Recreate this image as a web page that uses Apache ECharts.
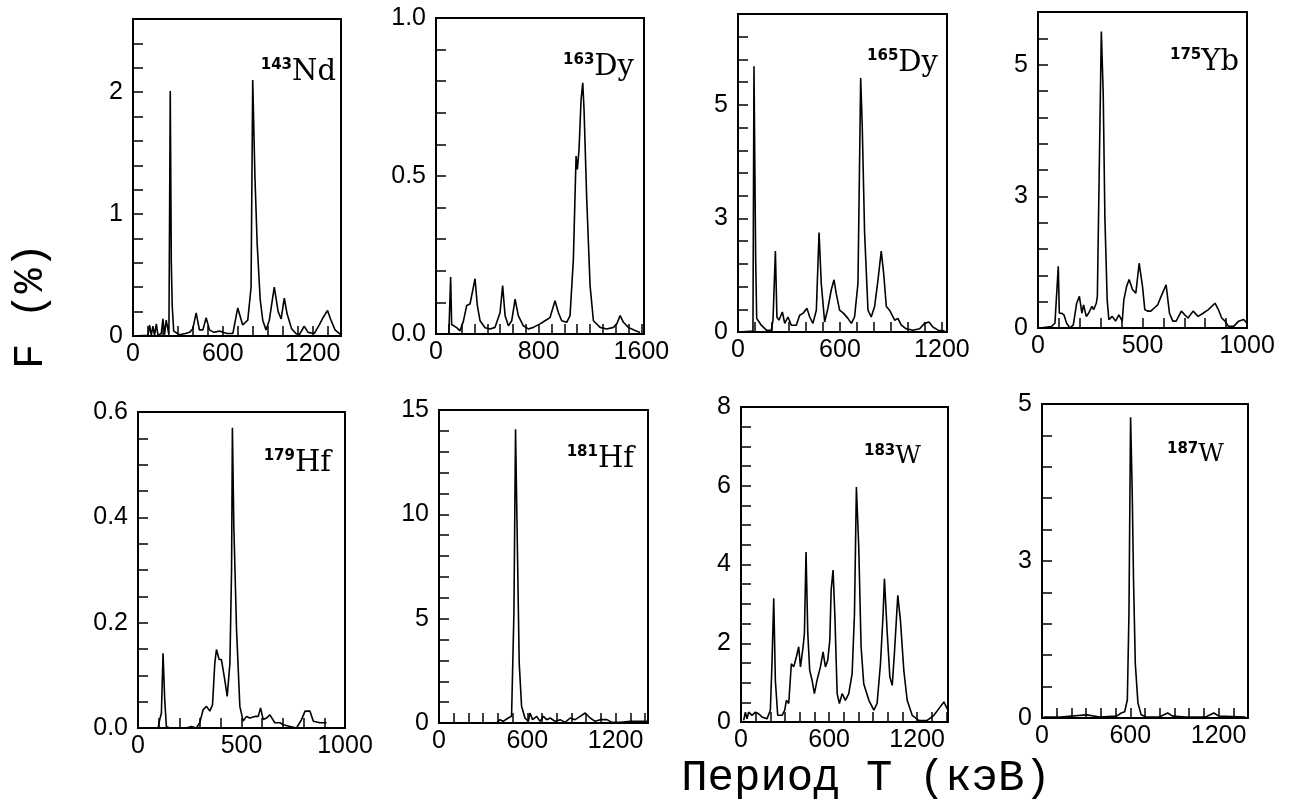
<!DOCTYPE html>
<html>
<head>
<meta charset="utf-8">
<script src="https://cdn.jsdelivr.net/npm/echarts@6/dist/echarts.min.js"></script>
<style>
html,body{margin:0;padding:0;background:#fff;}
#chart{width:1297px;height:801px;}
</style>
</head>
<body>
<div id="chart"></div>
<script>
// ---------- DATA (keV, F %) ----------
const nd143 = [[0,0],[100,0.005],[111,0.09],[122,0.005],[133,0.08],[144,0.005],[156,0.1],[167,0.005],[189,0.02],[200,0.14],[211,0.01],[222,0.13],[240,0.01],[249,2.01],[256,0.6],[262,0.25],[272,0.04],[311,0.01],[350,0.02],[378,0.03],[400,0.06],[422,0.19],[444,0.05],[467,0.05],[489,0.15],[511,0.05],[540,0.03],[578,0.04],[600,0.03],[630,0.02],[667,0.02],[700,0.23],[733,0.09],[767,0.13],[789,0.4],[800,2.1],[815,1.3],[830,0.75],[850,0.3],[867,0.13],[889,0.05],[911,0.13],[944,0.4],[970,0.2],[990,0.14],[1011,0.31],[1030,0.18],[1060,0.06],[1089,0.02],[1111,0.01],[1144,0.08],[1170,0.03],[1211,0.02],[1244,0.09],[1270,0.15],[1300,0.21],[1320,0.14],[1350,0.05],[1390,0.01]];
const dy163 = [[100,0],[108,0.0],[114,0.18],[122,0.03],[135,0.03],[161,0.02],[187,0.01],[213,0.04],[239,0.09],[265,0.095],[280,0.09],[304,0.175],[322,0.09],[343,0.042],[382,0.02],[421,0.016],[460,0.021],[499,0.068],[519,0.153],[538,0.058],[564,0.026],[590,0.042],[616,0.11],[641,0.058],[680,0.026],[719,0.016],[758,0.021],[810,0.032],[849,0.042],[888,0.052],[927,0.105],[953,0.068],[979,0.042],[1018,0.037],[1044,0.058],[1070,0.237],[1091,0.563],[1101,0.521],[1114,0.584],[1130,0.742],[1143,0.795],[1153,0.71],[1174,0.426],[1200,0.153],[1226,0.042],[1278,0.021],[1330,0.016],[1382,0.021],[1408,0.032],[1434,0.058],[1460,0.037],[1498,0.021],[1550,0.011],[1589,0.005]];
const dy165 = [[10,0],[88,0.02],[94,5.85],[104,1.6],[110,0.3],[118,0.26],[137,0.15],[167,0.04],[196,0.04],[206,0.26],[220,1.78],[229,0.33],[241,0.26],[261,0.44],[275,0.19],[294,0.33],[314,0.15],[343,0.15],[363,0.37],[382,0.41],[406,0.52],[422,0.33],[441,0.19],[461,0.48],[477,2.19],[490,1.07],[510,0.22],[529,0.52],[549,0.93],[565,1.15],[578,0.85],[598,0.48],[622,0.41],[647,0.3],[667,0.19],[686,0.33],[706,1.07],[722,5.59],[731,4.56],[745,2.19],[765,0.48],[784,0.33],[804,0.56],[824,1.15],[843,1.78],[857,1.3],[873,0.56],[892,0.48],[922,0.26],[941,0.3],[961,0.15],[990,0.07],[1029,0.04],[1069,0.07],[1098,0.19],[1124,0.22],[1147,0.11],[1177,0.04],[1216,0.02]];
const yb175 = [[8,0],[65,0.03],[81,0.09],[89,0.06],[97,1.17],[102,0.28],[113,0.28],[124,0.25],[137,0.09],[153,0],[169,0.06],[185,0.47],[198,0.6],[210,0.28],[218,0.44],[231,0.22],[242,0.28],[258,0.41],[266,0.35],[279,0.47],[284,0.6],[303,5.63],[312,4.46],[320,2.1],[331,0.54],[339,0.16],[355,0.22],[371,0.13],[387,0.25],[403,0.13],[411,0.54],[424,0.79],[436,0.92],[452,0.73],[468,0.66],[484,1.23],[500,0.79],[511,0.35],[524,0.32],[540,0.32],[556,0.38],[573,0.44],[589,0.6],[613,0.82],[629,0.28],[645,0.13],[661,0.13],[686,0.32],[702,0.25],[718,0.19],[742,0.32],[766,0.22],[790,0.28],[815,0.35],[847,0.47],[863,0.35],[879,0.19],[895,0.13],[911,0.03],[936,0.03],[960,0.13],[984,0.16],[1000,0.09]];
const hf179 = [[8,0],[97,0],[105,0.016],[113,0.028],[121,0.142],[129,0.054],[137,0.003],[153,0],[234,0],[258,0.003],[282,0],[298,0.01],[315,0.035],[331,0.041],[347,0.032],[360,0.044],[371,0.123],[379,0.149],[392,0.13],[403,0.13],[419,0.092],[431,0.06],[444,0.123],[452,0.3],[456,0.57],[463,0.383],[476,0.187],[492,0.041],[508,0.013],[524,0.022],[540,0.019],[565,0.022],[581,0.022],[592,0.038],[605,0.016],[621,0.019],[637,0.025],[661,0.01],[686,0.01],[702,0.006],[734,0.003],[766,0],[790,0.016],[807,0.032],[831,0.032],[847,0.013],[879,0.01],[911,0.01]];
const hf181 = [[27,0],[391,0],[414,0.16],[436,0.08],[470,0.24],[493,0.32],[509,5.28],[520,14.08],[532,8.64],[545,2.88],[561,0.8],[584,0.24],[607,0.08],[618,0.48],[636,0.16],[664,0.32],[686,0.08],[709,0.32],[732,0.16],[755,0.24],[789,0.08],[823,0.16],[857,0.03],[891,0.24],[925,0.16],[959,0.32],[993,0.48],[1027,0.24],[1061,0.08],[1095,0.16],[1141,0.16],[1175,0.03],[1232,0.03],[1300,0.08],[1414,0.08]];
const w183 = [[18,0.04],[30,0.25],[41,0.08],[52,0.25],[75,0.17],[98,0.25],[120,0.21],[143,0.13],[177,0.08],[200,0.3],[211,1.48],[223,3.14],[234,1.06],[250,0.17],[280,0.17],[298,0.3],[309,0.55],[325,0.47],[343,1.48],[359,1.4],[377,1.65],[393,1.91],[405,1.4],[423,1.91],[432,2.25],[443,4.32],[455,2.25],[468,1.31],[484,1.06],[500,0.72],[518,1.06],[541,1.4],[559,1.78],[575,1.4],[591,1.57],[605,2.08],[614,3.35],[627,3.86],[639,2.75],[655,0.72],[670,0.47],[689,0.72],[711,0.55],[734,0.72],[757,1.23],[773,2.75],[786,5.97],[802,4.45],[818,1.91],[836,0.97],[871,0.55],[905,0.3],[927,0.47],[950,1.48],[968,2.75],[977,3.64],[995,2.33],[1014,1.14],[1030,0.93],[1045,1.74],[1068,3.22],[1086,2.58],[1109,1.31],[1132,0.55],[1166,0.17],[1211,0.04],[1268,0.04],[1314,0.17],[1348,0.34],[1382,0.51],[1409,0.3]];
const w187 = [[11,0.016],[124,0.016],[303,0.05],[393,0.016],[506,0.03],[539,0.08],[562,0.1],[580,0.29],[591,1.67],[602,4.79],[613,3.62],[622,2.2],[634,0.87],[652,0.24],[674,0.05],[708,0.016],[798,0.016],[854,0.08],[888,0.03],[977,0.016],[1112,0.016],[1168,0.08],[1202,0.03],[1382,0.016]];

const isotopes = ['143','163','165','175','179','181','183','187'];
const elements = ['Nd','Dy','Dy','Yb','Hf','Hf','W','W'];
const xMax   = [1390,1620,1230,1000,1000,1420,1410,1400];
const xMinor = [100,100,100,100,100,100,100,100];
const xMajor = [600,800,600,500,500,600,600,600];
const yMax   = [2.6,1.0,7,6,0.6,15,8,5];
const yMinor = [0.2,0.1,0.5,0.5,0.05,1,0.5,0.5];
const yMajor = [1,0.5,2.5,2.5,0.2,5,2,2.5];
const yDecimals = [0,1,0,0,1,0,0,0];
const xTitle = 'Период T (кэВ)';
const yTitle = 'F (%)';
const panelData = [nd143, dy163, dy165, yb175, hf179, hf181, w183, w187];

// ---------- LAYOUT ----------
const layout = [[133,19,208,317],[436,18,208,316],[738,14,209,318],[1038,12,209,316],
                [138,412,207,316],[439,410,209,313],[741,407,207,315],[1042,404,206,314]];
const titlePos = [[336,87],[634,82],[938,78],[1239,77],[331,478],[634,474],[921,469],[1224,467]];
const elSize = [29,29,29,29,29,29,25,25];

function isMajor(v, step){ const r = v/step; return Math.abs(r - Math.round(r)) < 1e-6; }

const labelFont = {color:'#000', fontSize:25, fontFamily:'Liberation Sans, Arial, sans-serif'};
const option = {
  backgroundColor:'#fff',
  animation:false,
  grid: layout.map(g => ({left:g[0], top:g[1], width:g[2], height:g[3], show:true, borderColor:'#000', borderWidth:2, backgroundColor:'transparent'})),
  xAxis: layout.map((g,i) => ({
    type:'value', gridIndex:i, min:0, max:xMax[i], interval:xMinor[i],
    splitLine:{show:false},
    axisLine:{show:true, onZero:false, lineStyle:{color:'#000', width:2}},
    axisTick:{show:true, inside:true, length:10, lineStyle:{color:'#000', width:1.5}},
    axisLabel:Object.assign({margin:6, formatter: v => isMajor(v, xMajor[i]) ? String(Math.round(v)) : ''}, labelFont)
  })),
  yAxis: layout.map((g,i) => ({
    type:'value', gridIndex:i, min:0, max:yMax[i], interval:yMinor[i],
    splitLine:{show:false},
    axisLine:{show:true, onZero:false, lineStyle:{color:'#000', width:2}},
    axisTick:{show:true, inside:true, length:10, lineStyle:{color:'#000', width:1.5}},
    axisLabel:Object.assign({margin:10, formatter: v => isMajor(v, yMajor[i]) ? (yDecimals[i] ? v.toFixed(1) : String(Math.round(v))) : ''}, labelFont)
  })),
  series: panelData.map((d,i) => ({
    type:'line', xAxisIndex:i, yAxisIndex:i, data:d, showSymbol:false, symbol:'none',
    lineStyle:{color:'#000', width:1.6}, silent:true, clip:true
  })),
  graphic: []
};

isotopes.forEach((iso,i) => {
  option.graphic.push({
    type:'text', x:titlePos[i][0], y:titlePos[i][1], silent:true,
    style:{
      text:'{s|' + iso + '}{e|' + elements[i] + '}',
      align:'right', textAlign:'right', verticalAlign:'bottom', textVerticalAlign:'bottom',
      fill:'#000',
      rich:{
        s:{fontFamily:'DejaVu Sans', fontWeight:'bold', fontSize:15, lineHeight:10, verticalAlign:'top', fill:'#000'},
        e:{fontFamily:'DejaVu Serif', fontSize:elSize[i], lineHeight:elSize[i], verticalAlign:'bottom', fill:'#000'}
      }
    }
  });
});

option.graphic.push({
  type:'text', x:866, y:778, silent:true,
  style:{text:xTitle, fontFamily:'Liberation Mono, Courier New, monospace', fontSize:44, fill:'#000',
         align:'center', textAlign:'center', verticalAlign:'middle', textVerticalAlign:'middle'}
});
option.graphic.push({
  type:'text', x:31, y:306, rotation:Math.PI/2, silent:true,
  style:{text:yTitle, fontFamily:'Liberation Mono, Courier New, monospace', fontSize:42, fill:'#000',
         align:'center', textAlign:'center', verticalAlign:'middle', textVerticalAlign:'middle'}
});

const chart = echarts.init(document.getElementById('chart'), null, {renderer:'canvas'});
chart.setOption(option);
</script>
</body>
</html>
